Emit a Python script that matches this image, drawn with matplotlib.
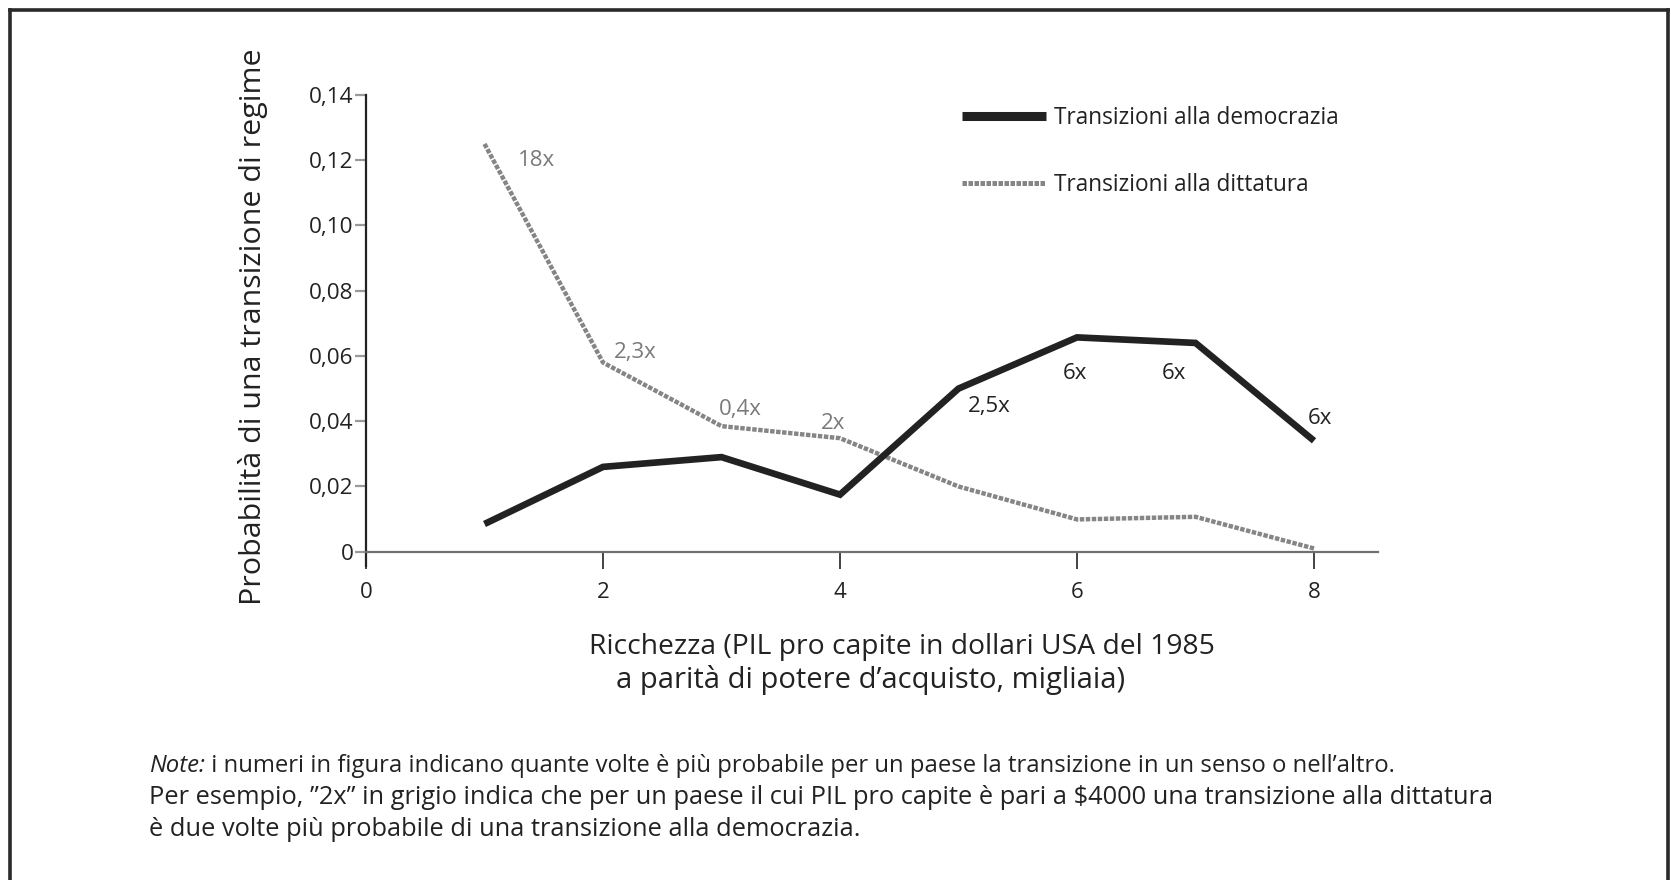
import numpy as np
import matplotlib
matplotlib.use('Agg')
import matplotlib.pyplot as plt
from matplotlib.lines import Line2D
from matplotlib.ticker import FuncFormatter

plt.rcParams['font.family'] = ['Open Sans', 'DejaVu Sans']

# dati
ricchezza = [1, 2, 3, 4, 5, 6, 7, 8]
democrazia = [0.0085, 0.026, 0.029, 0.0175, 0.050, 0.0657, 0.064, 0.034]
dittatura = [0.125, 0.058, 0.0385, 0.0348, 0.020, 0.0099, 0.0107, 0.001]

# etichette "quante volte" (testo, x, y)
etich_grigie = [('18x', 1.44, 0.120), ('2,3x', 2.27, 0.0612),
                ('0,4x', 3.16, 0.0435), ('2x', 3.94, 0.0393)]
etich_nere = [('2,5x', 5.26, 0.0445), ('6x', 5.98, 0.0546),
              ('6x', 6.82, 0.0546), ('6x', 8.05, 0.0409)]

y_ticks = [0, 0.02, 0.04, 0.06, 0.08, 0.10, 0.12, 0.14]
x_ticks = [0, 2, 4, 6, 8]

W, H = 1671, 880
fig = plt.figure(figsize=(W / 100, H / 100), dpi=100)
ax = fig.add_axes([366 / W, 1 - 566.4 / H, 1012 / W, (566.4 - 95) / H])

nero = '#222222'
grigio = '#858585'

ax.plot(ricchezza, dittatura, color=grigio, lw=3.2, dashes=(1.0, 0.35),
        solid_joinstyle='miter', label='Transizioni alla dittatura', zorder=3)
ax.plot(ricchezza, democrazia, color=nero, lw=4.8, solid_joinstyle='miter',
        solid_capstyle='butt', label='Transizioni alla democrazia', zorder=4)

for txt, x, y in etich_grigie:
    ax.text(x, y, txt, color='#7a7a7a', fontsize=16, ha='center', va='center')
for txt, x, y in etich_nere:
    ax.text(x, y, txt, color=nero, fontsize=16, ha='center', va='center')

ax.set_xlim(0, 8.54)
ax.set_ylim(-0.0045, 0.14)
ax.set_xticks(x_ticks)
ax.set_yticks(y_ticks)
ax.yaxis.set_major_formatter(FuncFormatter(
    lambda v, p: '0' if abs(v) < 1e-9 else ('%.2f' % v).replace('.', ',')))

for s in ['top', 'right']:
    ax.spines[s].set_visible(False)
ax.spines['bottom'].set_position(('data', 0))
ax.spines['bottom'].set_color('#707070')
ax.spines['bottom'].set_linewidth(1.6)
ax.spines['left'].set_color(nero)
ax.spines['left'].set_linewidth(1.6)
ax.tick_params(axis='y', direction='out', length=8, width=1.6, color='#9a9a9a',
               labelsize=16.2, labelcolor=nero, pad=1)
ax.tick_params(axis='x', direction='out', length=12, width=1.2, color=nero,
               labelsize=16, labelcolor=nero, pad=10)

fig.text(252.6 / W, 1 - 326.6 / H, 'Probabilità di una transizione di regime',
         rotation=90, ha='center', va='center', fontsize=21.9, color=nero)
fig.text(902 / W, 1 - 647 / H, 'Ricchezza (PIL pro capite in dollari USA del 1985',
         ha='center', va='center', fontsize=20.3, color=nero)
fig.text(871 / W, 1 - 680 / H, 'a parità di potere d\u2019acquisto, migliaia)',
         ha='center', va='center', fontsize=21.0, color=nero)

handles = [Line2D([], [], color=nero, lw=6.5, solid_capstyle='butt'),
           Line2D([], [], color=grigio, lw=3.6, dashes=(0.9, 0.3))]
ax.legend(handles, ['Transizioni alla democrazia', 'Transizioni alla dittatura'],
          loc='upper left', bbox_to_anchor=(962 / W, 1 - 106 / H),
          bbox_transform=fig.transFigure, frameon=False, fontsize=16.3,
          handlelength=3.7, handletextpad=0.38, labelspacing=1.89,
          labelcolor=nero, borderpad=0, borderaxespad=0)

# nota
nota = fig.text(149 / W, 1 - 772 / H, 'Note:', style='italic', fontsize=17.2,
                color=nero, va='baseline')
plt.annotate(' i numeri in figura indicano quante volte è più probabile per un paese '
             'la transizione in un senso o nell\u2019altro.', xy=(1, 0), xycoords=nota,
             fontsize=17.2, color=nero, va='bottom', ha='left',
             annotation_clip=False)
righe_nota = ['Per esempio, \u201d2x\u201d in grigio indica che per un paese il cui PIL '
              'pro capite è pari a $4000 una transizione alla dittatura',
              'è due volte più probabile di una transizione alla democrazia.']
for i, riga in enumerate(righe_nota):
    fig.text(149 / W, 1 - (803.5 + 32 * i) / H, riga, fontsize=18.3,
             color=nero, va='baseline')

# cornice
for xs, ys in [((10 / W, 10 / W), (0, 1 - 10 / H)),
               ((10 / W, 1668 / W), (1 - 10 / H, 1 - 10 / H)),
               ((1668 / W, 1668 / W), (1 - 10 / H, 0))]:
    fig.add_artist(Line2D(xs, ys, color='#2a2a2a', lw=2.6,
                          transform=fig.transFigure, solid_capstyle='projecting'))

fig.savefig('out.png', dpi=100, facecolor='white')
